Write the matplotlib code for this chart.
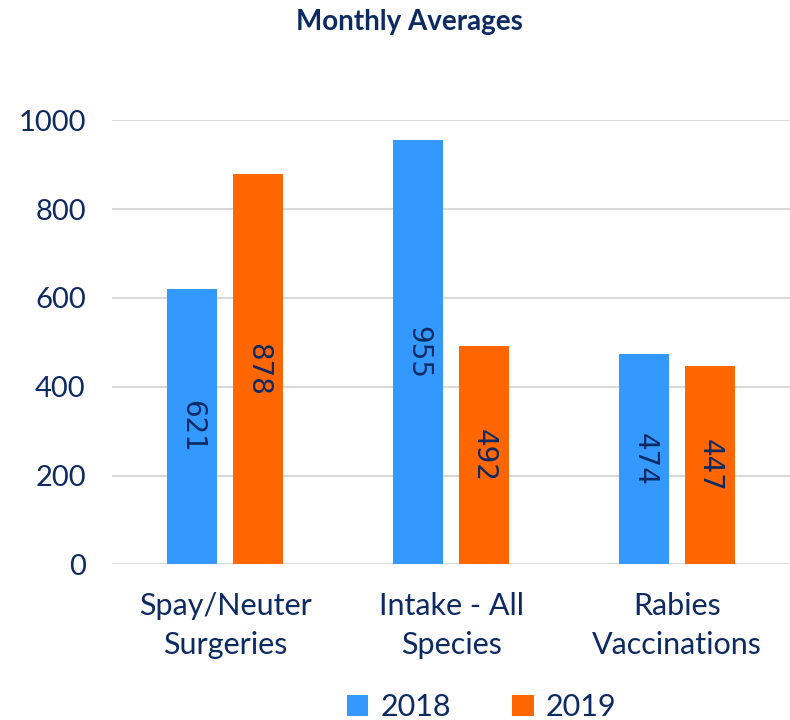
import numpy as np
import matplotlib
matplotlib.use("Agg")
import matplotlib.pyplot as plt

categories = ["Spay/Neuter\nSurgeries", "Intake - All\nSpecies", "Rabies\nVaccinations"]
series_names = ["2018", "2019"]
values_2018 = [621, 955, 474]
values_2019 = [878, 492, 447]
y_ticks = [0, 200, 400, 600, 800, 1000]

navy = "#0D2A63"
colors = ["#3399FF", "#FF6600"]

plt.rcParams["font.family"] = ["Lato", "DejaVu Sans"]

fig = plt.figure(figsize=(7.9, 7.2), dpi=100)
ax = fig.add_axes([0.142, 0.216, 0.858, 0.617])

x = np.arange(len(categories))
w = 0.222
off = 0.145
bars1 = ax.bar(x - off, values_2018, w, color=colors[0], label=series_names[0], zorder=3)
bars2 = ax.bar(x + off, values_2019, w, color=colors[1], label=series_names[1], zorder=3)

for bars in (bars1, bars2):
    for b in bars:
        h = b.get_height()
        ax.text(b.get_x() + b.get_width() / 2, h / 2, f"{int(h)}", rotation=270,
                ha="center", va="center", fontsize=20, color=navy,
                family="DejaVu Sans", zorder=4)

ax.set_xlim(-0.5, 2.5)
ax.set_ylim(0, 1000)
ax.set_yticks(y_ticks)
ax.set_xticks(x)
ax.set_xticklabels(categories, linespacing=1.45)
ax.tick_params(axis="both", length=0, labelcolor=navy)
ax.tick_params(axis="x", pad=20, labelsize=22)
ax.tick_params(axis="y", pad=19, labelsize=21)
ax.yaxis.grid(True, color="#D9D9D9", linewidth=1.5, zorder=0)
for s in ax.spines.values():
    s.set_visible(False)
ax.set_axisbelow(True)

fig.text(0.518, 0.97, "Monthly Averages", ha="center", va="center",
         fontsize=20, fontweight="bold", color=navy)

fig.legend(handles=[bars1, bars2], labels=series_names, loc="center",
           bbox_to_anchor=(0.61, 0.018), ncol=2, frameon=False, fontsize=22,
           labelcolor=navy, handlelength=0.7, handleheight=0.7,
           handletextpad=0.4, columnspacing=2.0)

fig.savefig("out.png", dpi=100)
